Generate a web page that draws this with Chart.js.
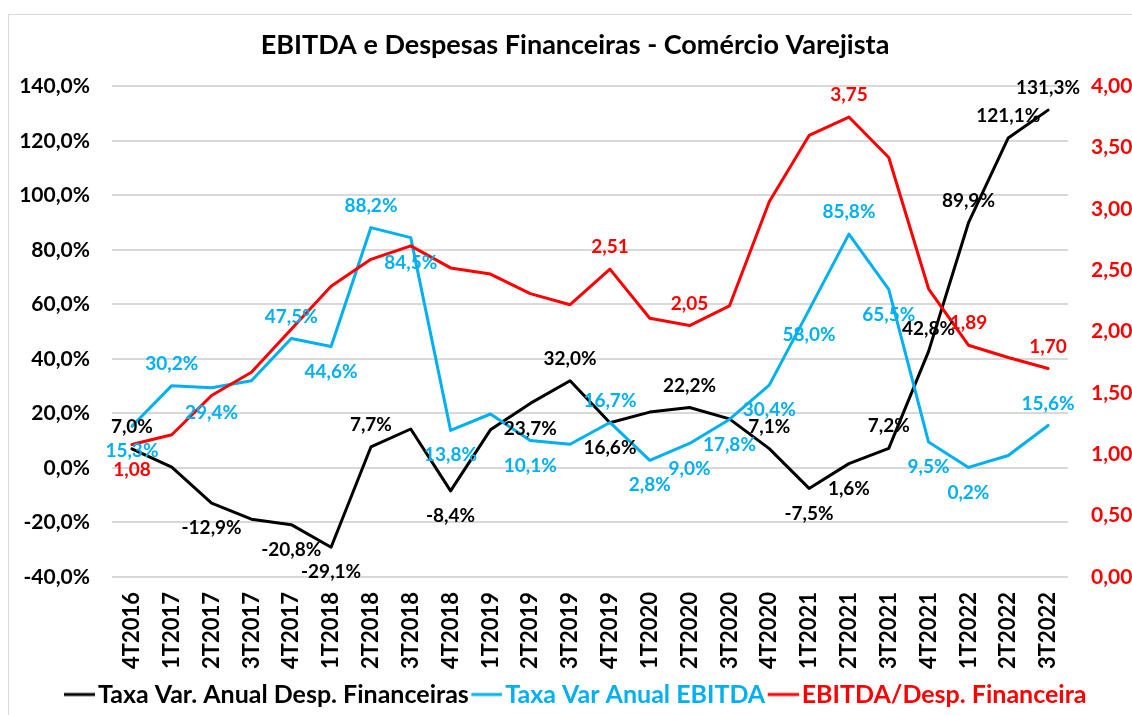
<!DOCTYPE html>
<html lang="pt-BR">
<head>
<meta charset="utf-8">
<title>EBITDA e Despesas Financeiras - Comércio Varejista</title>
<script src="https://cdn.jsdelivr.net/npm/chart.js@4.4.1/dist/chart.umd.min.js"></script>
<style>
  html, body { margin: 0; padding: 0; background: #fff; }
  #wrap { width: 1132px; height: 715px; position: relative; }
</style>
</head>
<body>
<div id="wrap"><canvas id="grafico"></canvas></div>
<script>
// Trimestres do eixo X
const trimestres = [
  '4T2016', '1T2017', '2T2017', '3T2017', '4T2017', '1T2018', '2T2018', '3T2018',
  '4T2018', '1T2019', '2T2019', '3T2019', '4T2019', '1T2020', '2T2020', '3T2020',
  '4T2020', '1T2021', '2T2021', '3T2021', '4T2021', '1T2022', '2T2022', '3T2022'
];

// Taxa Var. Anual Desp. Financeiras (%)
const taxaDespFin = [
  7.0, 0.3, -12.9, -18.8, -20.8, -29.1, 7.7, 14.3,
  -8.4, 14.0, 23.7, 32.0, 16.6, 20.5, 22.2, 18.0,
  7.1, -7.5, 1.6, 7.2, 42.8, 89.9, 121.1, 131.3
];

// Taxa Var Anual EBITDA (%)
const taxaEbitda = [
  15.3, 30.2, 29.4, 32.0, 47.5, 44.6, 88.2, 84.5,
  13.8, 19.8, 10.1, 8.7, 16.7, 2.8, 9.0, 17.8,
  30.4, 58.0, 85.8, 65.5, 9.5, 0.2, 4.6, 15.6
];

// EBITDA / Desp. Financeira (eixo da direita)
const ebitdaDespFin = [
  1.08, 1.16, 1.48, 1.67, 2.02, 2.37, 2.59, 2.70,
  2.52, 2.47, 2.31, 2.22, 2.51, 2.11, 2.05, 2.21,
  3.06, 3.60, 3.75, 3.42, 2.35, 1.89, 1.79, 1.70
];

// Rótulos: 'a' = acima do ponto, 'b' = abaixo, null = sem rótulo
const rotDespFin = [
  'a', null, 'b', null, 'b', 'b', 'a', null,
  'b', null, 'b', 'a', 'b', null, 'a', null,
  'a', 'b', 'b', 'a', 'a', 'a', 'a', 'a'
];
const rotEbitda = [
  'b', 'a', 'b', null, 'a', 'b', 'a', 'b',
  'b', null, 'b', null, 'a', 'b', 'b', 'b',
  'b', 'b', 'a', 'b', 'b', 'b', null, 'a'
];
const rotIndice = [
  'b', null, null, null, null, null, null, null,
  null, null, null, null, 'a', null, 'a', null,
  null, null, 'a', null, null, 'a', null, 'a'
];

const FONTE = 'Lato';
const PRETO = '#000000';
const AZUL = '#00B0F0';
const VERMELHO = '#FF0000';

const fmtPct = v => v.toFixed(1).replace('.', ',') + '%';
const fmtNum = v => v.toFixed(2).replace('.', ',');

// amostra de linha da legenda (colada ao texto, como no Excel)
function amostraLinha(cor) {
  const c = document.createElement('canvas');
  c.width = 41;
  c.height = 6;
  const g = c.getContext('2d');
  g.strokeStyle = cor;
  g.lineWidth = 3;
  g.beginPath();
  g.moveTo(10, 3);
  g.lineTo(41, 3);
  g.stroke();
  return c;
}

// desenha os rótulos de dados acima/abaixo dos pontos
const rotulosPlugin = {
  id: 'rotulos',
  afterDatasetsDraw(chart) {
    const ctx = chart.ctx;
    ctx.save();
    ctx.font = `bold 19px ${FONTE}`;
    ctx.textAlign = 'center';
    ctx.textBaseline = 'middle';
    chart.data.datasets.forEach((ds, i) => {
      const meta = chart.getDatasetMeta(i);
      ds.rotulos.forEach((pos, j) => {
        if (!pos) return;
        const p = meta.data[j];
        const dy = pos === 'a' ? -22 : 25;
        ctx.fillStyle = ds.borderColor;
        ctx.fillText(ds.formato(ds.data[j]), p.x, p.y + dy);
      });
    });
    ctx.restore();
  }
};

// fundo branco e moldura cinza
const molduraPlugin = {
  id: 'moldura',
  beforeDraw(chart) {
    const ctx = chart.ctx;
    ctx.save();
    ctx.fillStyle = '#ffffff';
    ctx.fillRect(0, 0, chart.width, chart.height);
    ctx.strokeStyle = '#d9d9d9';
    ctx.lineWidth = 1;
    ctx.strokeRect(8.5, 14.5, 1300, 900);
    ctx.restore();
  }
};

const ctx = document.getElementById('grafico');
new Chart(ctx, {
  type: 'line',
  data: {
    labels: trimestres,
    datasets: [
      {
        label: 'Taxa Var. Anual Desp. Financeiras',
        data: taxaDespFin,
        borderColor: PRETO,
        yAxisID: 'y',
        order: 3,
        rotulos: rotDespFin,
        formato: fmtPct
      },
      {
        label: 'Taxa Var Anual EBITDA',
        data: taxaEbitda,
        borderColor: AZUL,
        yAxisID: 'y',
        order: 2,
        rotulos: rotEbitda,
        formato: fmtPct
      },
      {
        label: 'EBITDA/Desp. Financeira',
        data: ebitdaDespFin,
        borderColor: VERMELHO,
        yAxisID: 'y1',
        order: 1,
        rotulos: rotIndice,
        formato: fmtNum
      }
    ]
  },
  options: {
    responsive: true,
    maintainAspectRatio: false,
    animation: false,
    layout: { padding: { left: 18, right: 0, top: 0, bottom: -2 } },
    elements: {
      line: { borderWidth: 3, tension: 0, fill: false, borderJoinStyle: 'round', borderCapStyle: 'round' },
      point: { radius: 0, hoverRadius: 0 }
    },
    plugins: {
      title: {
        display: true,
        text: 'EBITDA e Despesas Financeiras - Comércio Varejista',
        color: PRETO,
        font: { family: FONTE, size: 27, weight: 'bold' },
        padding: { top: 29, bottom: 25 }
      },
      legend: {
        position: 'bottom',
        labels: {
          font: { family: FONTE, size: 25, weight: 'bold' },
          usePointStyle: true,
          pointStyleWidth: 22,
          padding: 2,
          generateLabels(chart) {
            return chart.data.datasets.map((ds, i) => ({
              text: ds.label,
              fontColor: ds.borderColor,
              strokeStyle: ds.borderColor,
              fillStyle: ds.borderColor,
              lineWidth: 3,
              pointStyle: amostraLinha(ds.borderColor),
              hidden: false,
              datasetIndex: i
            }));
          }
        }
      },
      tooltip: { enabled: false }
    },
    scales: {
      x: {
        offset: true,
        grid: { display: false, drawTicks: false },
        border: { display: false },
        ticks: {
          color: PRETO,
          font: { family: FONTE, size: 22, weight: 'bold' },
          minRotation: 90,
          maxRotation: 90,
          autoSkip: false,
          padding: 15
        },
        afterFit(scale) { scale.height = 103; }
      },
      y: {
        position: 'left',
        min: -40,
        max: 140,
        grid: { color: '#d9d9d9', lineWidth: 2, drawTicks: false },
        border: { display: false },
        ticks: {
          stepSize: 20,
          color: PRETO,
          padding: 22,
          font: { family: FONTE, size: 21, weight: 'bold' },
          callback: v => fmtPct(v)
        },
        afterFit(scale) { scale.width = 94; }
      },
      y1: {
        position: 'right',
        min: 0,
        max: 4,
        grid: { display: false, drawTicks: false },
        border: { display: false },
        ticks: {
          stepSize: 0.5,
          color: VERMELHO,
          padding: 23,
          font: { family: FONTE, size: 21, weight: 'bold' },
          callback: v => fmtNum(v)
        },
        afterFit(scale) { scale.width = 64; }
      }
    }
  },
  plugins: [molduraPlugin, rotulosPlugin]
});
</script>
</body>
</html>
